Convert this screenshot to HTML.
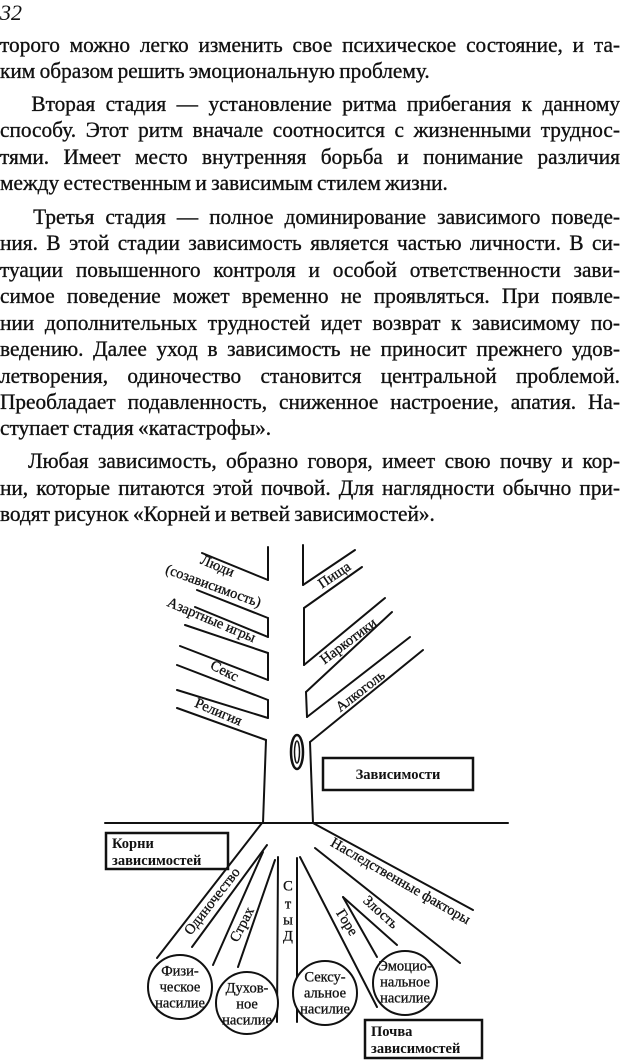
<!DOCTYPE html>
<html><head><meta charset="utf-8">
<style>
html,body{margin:0;padding:0;background:#fff;}
body{width:620px;height:1062px;position:relative;overflow:hidden;font-family:"Liberation Serif","DejaVu Serif",serif;color:#111;}
.pn{position:absolute;left:0;top:0;font-size:22px;font-style:italic;}
.l{position:absolute;left:0;width:640px;transform:scaleX(0.96875);transform-origin:0 0;font-size:22px;line-height:26px;white-space:nowrap;text-align:justify;text-align-last:justify;word-spacing:-1px;-webkit-text-stroke:0.35px #111;}
.e{text-align-last:left;}
svg{position:absolute;left:0;top:0;}
</style></head><body>
<div class="pn">32</div>
<div class="l" style="top:32px">торого можно легко изменить свое психическое состояние, и та-</div>
<div class="l e" style="top:58px">ким образом решить эмоциональную проблему.</div>
<div class="l" style="top:91px">&nbsp;&nbsp;&nbsp;Вторая стадия — установление ритма прибегания к данному</div>
<div class="l" style="top:117px">способу. Этот ритм вначале соотносится с жизненными труднос-</div>
<div class="l" style="top:144px">тями. Имеет место внутренняя борьба и понимание различия</div>
<div class="l e" style="top:170px">между естественным и зависимым стилем жизни.</div>
<div class="l" style="top:204px">&nbsp;&nbsp;&nbsp;Третья стадия — полное доминирование зависимого поведе-</div>
<div class="l" style="top:230px">ния. В этой стадии зависимость является частью личности. В си-</div>
<div class="l" style="top:257px">туации повышенного контроля и особой ответственности зави-</div>
<div class="l" style="top:283px">симое поведение может временно не проявляться. При появле-</div>
<div class="l" style="top:310px">нии дополнительных трудностей идет возврат к зависимому по-</div>
<div class="l" style="top:336px">ведению. Далее уход в зависимость не приносит прежнего удов-</div>
<div class="l" style="top:363px">летворения, одиночество становится центральной проблемой.</div>
<div class="l" style="top:389px">Преобладает подавленность, сниженное настроение, апатия. На-</div>
<div class="l e" style="top:415px">ступает стадия «катастрофы».</div>
<div class="l" style="top:448px">&nbsp;&nbsp;&nbsp;Любая зависимость, образно говоря, имеет свою почву и кор-</div>
<div class="l" style="top:475px">ни, которые питаются этой почвой. Для наглядности обычно при-</div>
<div class="l e" style="top:501px">водят рисунок «Корней и ветвей зависимостей».</div>

<svg width="620" height="1062" viewBox="0 0 620 1062" font-family="Liberation Serif, DejaVu Serif, serif" fill="#111">
<g stroke="#111" stroke-width="2" fill="none" stroke-linecap="round">
<line x1="268" y1="547" x2="268" y2="580"/>
<line x1="202" y1="553" x2="268" y2="580"/>
<line x1="197" y1="590" x2="268" y2="618"/>
<line x1="268" y1="618" x2="268" y2="637"/>
<line x1="195" y1="607" x2="268" y2="637"/>
<line x1="185" y1="625" x2="268" y2="653"/>
<line x1="268" y1="653" x2="268" y2="680"/>
<line x1="180" y1="646" x2="268" y2="680"/>
<line x1="177" y1="665" x2="268" y2="700"/>
<line x1="268" y1="700" x2="268" y2="718"/>
<line x1="177" y1="690" x2="268" y2="718"/>
<line x1="177" y1="708" x2="266" y2="740"/>
<line x1="266" y1="740" x2="263" y2="823"/>
<line x1="303" y1="545" x2="303" y2="585"/>
<line x1="303" y1="585" x2="355" y2="550"/>
<line x1="304" y1="608" x2="362" y2="567"/>
<line x1="304" y1="608" x2="304" y2="665"/>
<line x1="304" y1="665" x2="385" y2="598"/>
<line x1="306" y1="692" x2="392" y2="612"/>
<line x1="306" y1="692" x2="307" y2="717"/>
<line x1="307" y1="717" x2="410" y2="637"/>
<line x1="310" y1="742" x2="423" y2="650"/>
<line x1="310" y1="742" x2="313" y2="823"/>
<line x1="105" y1="823" x2="508" y2="823"/>
<line x1="262" y1="823" x2="157" y2="958"/>
<line x1="267" y1="845" x2="192" y2="947"/>
<line x1="263" y1="852" x2="213" y2="965"/>
<line x1="275" y1="860" x2="238" y2="967"/>
<line x1="278" y1="857" x2="277" y2="1022"/>
<line x1="297" y1="858" x2="297" y2="1022"/>
<line x1="300" y1="857" x2="377" y2="1007"/>
<line x1="343" y1="897" x2="397" y2="945"/>
<line x1="343" y1="897" x2="377" y2="957"/>
<line x1="313" y1="823" x2="473" y2="910"/>
<line x1="315" y1="848" x2="460" y2="963"/>
<ellipse cx="297" cy="752" rx="6" ry="17" stroke-width="2.5"/>
<ellipse cx="297" cy="752" rx="2.5" ry="11" stroke-width="1.5"/>
<circle cx="180" cy="987" r="32" fill="#fff"/>
<circle cx="247" cy="1003" r="31" fill="#fff"/>
<circle cx="325" cy="993" r="32" fill="#fff"/>
<circle cx="405" cy="983" r="32" fill="#fff"/>
<rect x="323" y="758" width="150" height="32" stroke-width="2.5"/>
<rect x="106" y="833" width="122" height="36" stroke-width="2.5"/>
<rect x="365" y="1020" width="117" height="38" stroke-width="2.5"/>
</g>
<g font-size="14.5" text-anchor="middle" dominant-baseline="middle" stroke="#111" stroke-width="0.3">
<text transform="translate(217,567) rotate(23)">Люди</text>
<text transform="translate(213,587) rotate(20)">(созависимость)</text>
<text transform="translate(211,621) rotate(23)">Азартные игры</text>
<text transform="translate(224,672) rotate(27)">Секс</text>
<text transform="translate(218,713) rotate(23)">Религия</text>
<text transform="translate(335,576) rotate(-34)">Пища</text>
<text transform="translate(349,642) rotate(-37)">Наркотики</text>
<text transform="translate(361,692) rotate(-38)">Алкоголь</text>
<text transform="translate(400,882) rotate(30)">Наследственные факторы</text>
<text transform="translate(213,902) rotate(-52)">Одиночество</text>
<text transform="translate(243,925) rotate(-63)">Страх</text>
<text transform="translate(346,923) rotate(58)">Горе</text>
<text transform="translate(380,913) rotate(42)">Злость</text>
<text x="288" y="887">С</text>
<text x="288" y="905">т</text>
<text x="288" y="921">ы</text>
<text x="288" y="937">Д</text>
<text x="180" y="972">Физи-</text><text x="180" y="988">ческое</text><text x="180" y="1004">насилие</text>
<text x="247" y="989">Духов-</text><text x="247" y="1005">ное</text><text x="247" y="1021">насилие</text>
<text x="325" y="978">Сексу-</text><text x="325" y="994">альное</text><text x="325" y="1010">насилие</text>
<text x="405" y="967">Эмоцио-</text><text x="405" y="983">нальное</text><text x="405" y="999">насилие</text>
</g>
<g font-size="14.5" font-weight="bold">
<text x="398" y="779" text-anchor="middle">Зависимости</text>
<text x="112" y="848">Корни</text>
<text x="112" y="865">зависимостей</text>
<text x="371" y="1036">Почва</text>
<text x="371" y="1053">зависимостей</text>
</g>
</svg>
</body></html>
